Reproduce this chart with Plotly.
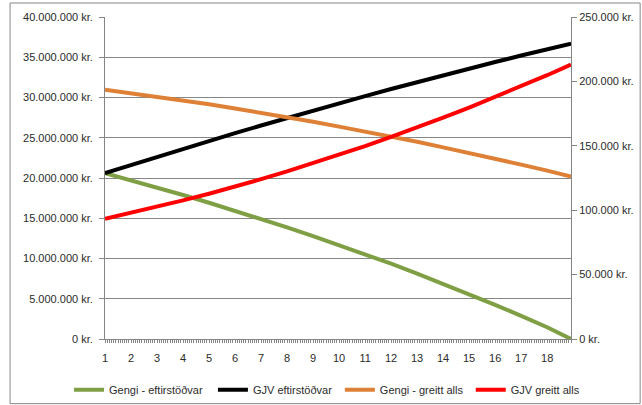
import plotly.graph_objects as go

# ---- data ----
months = [1, 13, 25, 37, 49, 61, 73, 85, 97, 109, 121, 133, 145, 157, 169, 181, 193, 205, 216]
year_tick_months = [1, 13, 25, 37, 49, 61, 73, 85, 97, 109, 121, 133, 145, 157, 169, 181, 193, 205]
year_labels = [str(i) for i in range(1, 19)]

gengi_eftirstodvar = [20600000, 19720000, 18820000, 17890000, 16930000, 15940000, 14920000,
                      13870000, 12790000, 11680000, 10530000, 9350000, 8130000, 6870000,
                      5580000, 4250000, 2870000, 1460000, 0]
gjv_eftirstodvar = [20600000, 21620000, 22630000, 23630000, 24610000, 25570000, 26520000,
                    27460000, 28380000, 29290000, 30180000, 31050000, 31910000, 32760000,
                    33590000, 34410000, 35210000, 35990000, 36700000]
gengi_greitt_alls = [193600, 190900, 188100, 185200, 182200, 179000, 175700, 172200, 168600,
                     164900, 161100, 157100, 153100, 148800, 144500, 140000, 135400, 130700, 126200]
gjv_greitt_alls = [93400, 97900, 102600, 107600, 112800, 118300, 124100, 130100, 136400,
                   143000, 149800, 156900, 164200, 171800, 179700, 187800, 196200, 204800, 213000]

left_vals = [0, 5000000, 10000000, 15000000, 20000000, 25000000, 30000000, 35000000, 40000000]
left_text = ["0 kr.", "5.000.000 kr.", "10.000.000 kr.", "15.000.000 kr.", "20.000.000 kr.",
             "25.000.000 kr.", "30.000.000 kr.", "35.000.000 kr.", "40.000.000 kr."]
grid_vals = [5000000, 10000000, 15000000, 20000000, 25000000, 30000000, 35000000]
right_vals = [0, 50000, 100000, 150000, 200000, 250000]
right_text = ["0 kr.", "50.000 kr.", "100.000 kr.", "150.000 kr.", "200.000 kr.", "250.000 kr."]

names = ["Gengi - eftirstöðvar", "GJV eftirstöðvar", "Gengi - greitt alls", "GJV greitt alls"]
colors = ["#7F9F45", "#000000", "#DE8036", "#FF0000"]

# ---- geometry ----
W, H = 642, 405
L, R, T, B = 105, 571.3, 17, 339.3
def px(x):
    return (x - L) / (R - L)
def py(y):
    return (B - y) / (B - T)

FONT = "Liberation Sans"
TXT = "#2b2b2b"
AX = "#868686"

fig = go.Figure()
series = [(gengi_eftirstodvar, "y"), (gjv_eftirstodvar, "y"),
          (gengi_greitt_alls, "y2"), (gjv_greitt_alls, "y2")]
legend_ids = ["legend", "legend2", "legend3", "legend4"]
for (vals, ax), name, col, lg in zip(series, names, colors, legend_ids):
    fig.add_trace(go.Scatter(x=months, y=vals, name=name, mode="lines", yaxis=ax,
                             line=dict(color=col, width=4), legend=lg))

layout = dict(
    width=W, height=H,
    margin=dict(l=L, r=W - R, t=T, b=H - B, autoexpand=False),
    paper_bgcolor="white", plot_bgcolor="white",
    font=dict(family=FONT, size=11, color=TXT),
    xaxis=dict(range=[1, 216], tickvals=year_tick_months, ticktext=year_labels,
               showgrid=False, zeroline=False, showline=True, linecolor=AX, linewidth=1,
               ticks="outside", ticklen=3, tickcolor=AX,
               minor=dict(dtick=1, tick0=1, ticks="outside", ticklen=3, tickcolor=AX),
               ticklabelstandoff=6, tickfont=dict(family=FONT, size=11, color=TXT)),
    yaxis=dict(range=[0, 40000000], tickvals=left_vals, ticktext=left_text,
               showgrid=False, zeroline=False, showline=True, linecolor=AX, linewidth=1,
               ticks="outside", ticklen=5, tickcolor=AX, ticklabelstandoff=4,
               minor=dict(tickvals=grid_vals, showgrid=True, gridcolor=AX, gridwidth=1, ticks=""),
               tickfont=dict(family=FONT, size=11, color=TXT)),
    yaxis2=dict(range=[0, 250000], tickvals=right_vals, ticktext=right_text,
                overlaying="y", side="right", anchor="x",
                showgrid=False, zeroline=False, showline=True, linecolor=AX, linewidth=1,
                ticks="outside", ticklen=5, tickcolor=AX,
                tickfont=dict(family=FONT, size=11, color=TXT)),
    showlegend=True,
    shapes=[dict(type="rect", xref="paper", yref="paper",
                 x0=px(10), x1=px(640.5), y0=py(404), y1=py(3),
                 line=dict(color=AX, width=1), fillcolor="rgba(0,0,0,0)", layer="below")],
)
text_starts = [112, 256, 383, 514]
for lg, s in zip(legend_ids, text_starts):
    layout[lg] = dict(x=px(s - 43), xanchor="left", y=py(390), yanchor="middle",
                      orientation="h", bgcolor="rgba(0,0,0,0)",
                      font=dict(family=FONT, size=11, color=TXT))
fig.update_layout(**layout)
fig.write_html("out.html")
